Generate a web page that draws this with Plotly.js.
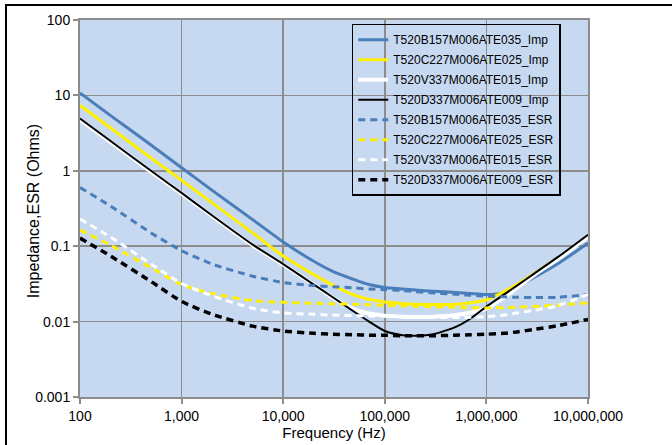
<!DOCTYPE html>
<html><head><meta charset="utf-8">
<script src="https://cdn.plot.ly/plotly-3.0.1.min.js"></script>
<style>
html,body{margin:0;padding:0;background:#fff;overflow:hidden;}
#chart{width:672px;height:445px;}
#frame{position:absolute;left:5px;top:4px;width:700px;height:470px;border-left:2.5px solid #000;border-top:2.5px solid #000;pointer-events:none;}
</style></head><body>
<div id="chart"></div><div id="frame"></div>
<script>
// Frequencies (Hz)
const freq = [100, 200, 500, 1e3, 2e3, 5e3, 1e4, 2e4, 3e4, 5e4, 7e4, 1e5, 1.5e5, 2e5, 3e5, 5e5, 7e5, 1e6, 1.5e6, 2e6, 3e6, 5e6, 1e7];

// Impedance (Ohms)
const impB = [10.8, 5.4, 2.2, 1.1, 0.55, 0.225, 0.114, 0.063, 0.047, 0.036, 0.031, 0.0283, 0.027, 0.0262, 0.0253, 0.0243, 0.0235, 0.0228, 0.0242, 0.029, 0.039, 0.058, 0.11];
const impC = [7.4, 3.7, 1.48, 0.75, 0.375, 0.15, 0.074, 0.042, 0.031, 0.0225, 0.0198, 0.0182, 0.0174, 0.017, 0.0168, 0.017, 0.0178, 0.0195, 0.025, 0.031, 0.044, 0.069, 0.136];
const impV = [4.75, 2.4, 0.97, 0.5, 0.25, 0.103, 0.057, 0.031, 0.0212, 0.0145, 0.0128, 0.012, 0.0116, 0.0115, 0.0116, 0.0122, 0.0132, 0.015, 0.021, 0.028, 0.042, 0.067, 0.133];
const impD = [4.93, 2.48, 1.0, 0.51, 0.255, 0.105, 0.058, 0.031, 0.0215, 0.0135, 0.01, 0.0075, 0.0066, 0.0065, 0.0068, 0.0085, 0.011, 0.0158, 0.023, 0.03, 0.044, 0.071, 0.142];

// ESR (Ohms)
const esrB = [0.6, 0.34, 0.15, 0.087, 0.058, 0.04, 0.033, 0.03, 0.029, 0.028, 0.027, 0.0265, 0.0258, 0.025, 0.024, 0.023, 0.0223, 0.0218, 0.0213, 0.021, 0.0208, 0.021, 0.0228];
const esrC = [0.164, 0.103, 0.052, 0.031, 0.0235, 0.019, 0.018, 0.0175, 0.0172, 0.017, 0.0167, 0.0165, 0.0162, 0.016, 0.0157, 0.0155, 0.0153, 0.0152, 0.0153, 0.0155, 0.0159, 0.0165, 0.0178];
const esrV = [0.23, 0.132, 0.058, 0.032, 0.022, 0.015, 0.013, 0.0125, 0.0122, 0.012, 0.0119, 0.0118, 0.0116, 0.0115, 0.0114, 0.0113, 0.0114, 0.0116, 0.0122, 0.013, 0.0142, 0.0162, 0.023];
const esrD = [0.128, 0.074, 0.034, 0.0185, 0.0125, 0.0087, 0.0075, 0.007, 0.0068, 0.0067, 0.0066, 0.0066, 0.0065, 0.0065, 0.0065, 0.0066, 0.0067, 0.0068, 0.007, 0.0073, 0.0079, 0.0088, 0.0107];

const names = ["T520B157M006ATE035_Imp", "T520C227M006ATE025_Imp", "T520V337M006ATE015_Imp", "T520D337M006ATE009_Imp",
               "T520B157M006ATE035_ESR", "T520C227M006ATE025_ESR", "T520V337M006ATE015_ESR", "T520D337M006ATE009_ESR"];

const xTickVals = [100, 1000, 10000, 100000, 1000000, 10000000];
const xTickText = ["100", "1,000", "10,000", "100,000", "1,000,000", "10,000,000"];
const yTickVals = [0.001, 0.01, 0.1, 1, 10, 100];
const yTickText = ["0.001", "0.01", "0.1", "1", "10", "100"];
const xTitle = "Frequency (Hz)";
const yTitle = "Impedance,ESR (Ohms)";

const series = [impB, impC, impV, impD, esrB, esrC, esrV, esrD];
const colors = ["#4a7ebb", "#fff000", "#ffffff", "#000000", "#4a7ebb", "#fff000", "#ffffff", "#000000"];
const widths = [3, 3, 4, 2, 3, 3, 3, 3.5];
const dashes = ["solid", "solid", "solid", "solid", "7px,5px", "7px,5px", "7px,5px", "7px,5px"];

const traces = series.map((s, i) => ({
  x: freq, y: s, name: names[i], type: "scatter", mode: "lines", legendgroup: "g" + i,
  line: {color: colors[i], width: widths[i], dash: dashes[i], shape: "spline", smoothing: 0.6}
}));

const FONT = "Liberation Sans, Arial, sans-serif";
const axisCommon = {
  showline: true, linecolor: "#8c8c8c", linewidth: 2, mirror: true,
  showgrid: true, gridcolor: "#8c8c8c", gridwidth: 1.5,
  ticks: "outside", ticklen: 5, tickcolor: "#8c8c8c", tickwidth: 2,
  zeroline: false, tickfont: {family: FONT, size: 14, color: "#000"}
};

const layout = {
  width: 672, height: 445,
  margin: {l: 80, r: 84, t: 20, b: 48},
  paper_bgcolor: "#ffffff", plot_bgcolor: "#c6d9f1",
  showlegend: true,
  xaxis: Object.assign({}, axisCommon, {
    type: "log", range: [2, 7], tickvals: xTickVals, ticktext: xTickText,
    title: {text: xTitle, font: {family: FONT, size: 15, color: "#000"}, standoff: 2}
  }),
  yaxis: Object.assign({}, axisCommon, {
    type: "log", range: [-3, 2], tickvals: yTickVals, ticktext: yTickText
  }),
  annotations: [{
    text: yTitle, textangle: -90, xref: "paper", yref: "paper",
    x: -0.0925, y: 0.493, xanchor: "center", yanchor: "middle", showarrow: false,
    font: {family: FONT, size: 16, color: "#000"}
  }],
  legend: {
    x: 0.535, y: 0.99, xanchor: "left", yanchor: "top",
    bgcolor: "rgba(0,0,0,0)", bordercolor: "#000", borderwidth: 1.5,
    font: {family: FONT, size: 12, color: "#000"},
    tracegroupgap: 1
  }
};

Plotly.newPlot("chart", traces, layout, {staticPlot: true, displayModeBar: false});
</script>
</body></html>
